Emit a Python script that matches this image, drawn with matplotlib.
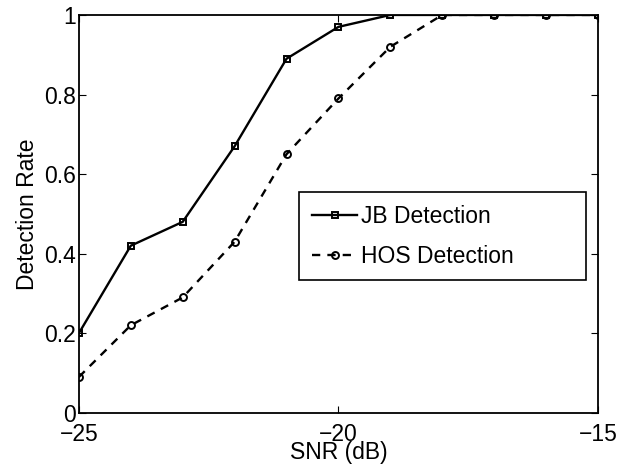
import matplotlib.pyplot as plt

plt.rcParams['font.family'] = ['Liberation Sans', 'DejaVu Sans']

# SNR sweep and detection rates
snr = [-25, -24, -23, -22, -21, -20, -19, -18, -17, -16, -15]
jb_rate = [0.20, 0.42, 0.48, 0.67, 0.89, 0.97, 1.0, 1.0, 1.0, 1.0, 1.0]
hos_rate = [0.09, 0.22, 0.29, 0.43, 0.65, 0.79, 0.92, 1.0, 1.0, 1.0, 1.0]

fig = plt.figure(figsize=(6.21, 4.67), dpi=100)
ax = fig.add_axes([0.127, 0.116, 0.836, 0.852])

ax.plot(snr, jb_rate, color='black', lw=1.7, marker='s', ms=4.5,
        mfc='none', mew=1.4, label='JB Detection')
ax.plot(snr, hos_rate, color='black', lw=1.7, ls=(0, (3.5, 3)), marker='o', ms=5,
        mfc='none', mew=1.4, label='HOS Detection')

ax.set_xlim(-25, -15)
ax.set_ylim(0, 1)
ax.set_xticks([-25, -20, -15])
ax.set_xticklabels(['\u221225', '\u221220', '\u221215'])
ax.set_yticks([0, 0.2, 0.4, 0.6, 0.8, 1])
ax.set_yticklabels(['0', '0.2', '0.4', '0.6', '0.8', '1'])
ax.tick_params(direction='in', top=True, right=True, length=5, width=0.8,
               labelsize=16.5)
ax.tick_params(axis='y', pad=2)
ax.tick_params(axis='x', pad=7)
for s in ax.spines.values():
    s.set_linewidth(1.3)

ax.set_xlabel('SNR (dB)', fontsize=16.5, labelpad=-3)
ax.set_ylabel('Detection Rate', fontsize=16.5, labelpad=4)

# legend box stretched to a fixed width, entries stay left-aligned
leg = ax.legend(loc='upper left', bbox_to_anchor=(0.424, 0.332, 0.553, 0.223),
                mode='expand', fontsize=16.5,
                fancybox=False, edgecolor='black', framealpha=1,
                borderaxespad=0, handlelength=2.0, handletextpad=0.15,
                borderpad=0.55, labelspacing=0.75)
leg.get_frame().set_linewidth(1.2)

fig.savefig('out.png', dpi=100)
